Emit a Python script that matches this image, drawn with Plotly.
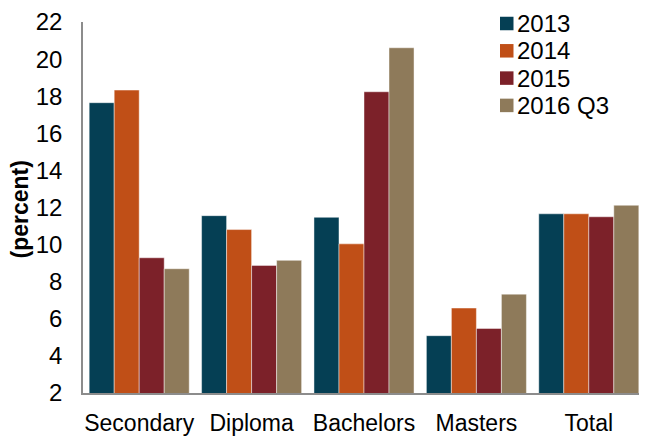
import plotly.graph_objects as go

categories = ["Secondary", "Diploma", "Bachelors", "Masters", "Total"]
series_names = ["2013", "2014", "2015", "2016 Q3"]
v2013 = [17.65, 11.56, 11.47, 5.09, 11.66]
v2014 = [18.33, 10.81, 10.04, 6.58, 11.66]
v2015 = [9.29, 8.88, 18.24, 5.48, 11.50]
v2016 = [8.70, 9.15, 20.61, 7.33, 12.12]
colors = ["#053F54", "#C04F17", "#7C2129", "#8E7A5A"]
y_ticks = [2, 4, 6, 8, 10, 12, 14, 16, 18, 20, 22]
y_title = "(percent)"

FONT = "Liberation Sans, Arial, sans-serif"
# page has an 8px body margin, so the figure is sized to fit the window
W, H = 639, 428
ML, MR, MT, MB = 75, 2, 14, 43
PW, PH = W - ML - MR, H - MT - MB

fig = go.Figure()
for name, vals, col in zip(series_names, [v2013, v2014, v2015, v2016], colors):
    fig.add_trace(go.Bar(
        x=categories, y=vals, name=name, showlegend=False,
        marker=dict(color=col, line=dict(color="rgba(255,255,255,0.45)", width=1)),
    ))

# legend drawn as shapes + text (compact row spacing like the reference)
sq_left, sq_size, txt_left = 492, 13.5, 508
row_top, row_step = 15.5, 27.3
for i, (name, col) in enumerate(zip(series_names, colors)):
    cy = row_top + i * row_step
    fig.add_shape(type="rect", xref="paper", yref="paper",
                  x0=(sq_left - ML) / PW, x1=(sq_left + sq_size - ML) / PW,
                  y0=(H - MB - (cy + sq_size / 2)) / PH, y1=(H - MB - (cy - sq_size / 2)) / PH,
                  fillcolor=col, line=dict(width=0))
    fig.add_annotation(xref="paper", yref="paper", x=(txt_left - ML) / PW,
                       y=(H - MB - cy) / PH, xanchor="left", yanchor="middle",
                       text=name, showarrow=False, borderpad=0,
                       font=dict(size=24, family=FONT, color="black"))

# rotated y-axis title
fig.add_annotation(xref="paper", yref="paper", x=(11.5 - ML) / PW,
                   y=(H - MB - 202) / PH, xanchor="center", yanchor="middle",
                   text="<b>" + y_title + "</b>", textangle=-90, showarrow=False,
                   font=dict(size=23, family=FONT, color="black"))

fig.update_layout(
    width=W, height=H,
    barmode="group", bargap=0.11, bargroupgap=0,
    plot_bgcolor="white", paper_bgcolor="white",
    margin=dict(l=ML, r=MR, t=MT, b=MB, autoexpand=False),
    font=dict(family=FONT, size=23, color="black"),
    showlegend=False,
    xaxis=dict(showline=True, linecolor="#8c8c8c", linewidth=1.5, automargin=False,
               ticks="", ticklabelstandoff=9, tickfont=dict(size=23, family=FONT),
               showgrid=False),
    yaxis=dict(range=[2, 22], tickvals=y_ticks, showline=True, automargin=False,
               linecolor="#8c8c8c", linewidth=1.5, showgrid=False, zeroline=False,
               ticks="", ticklabelstandoff=14, ticklabeloverflow="allow",
               tickfont=dict(size=24, family=FONT)),
)

fig.write_html("out.html")
